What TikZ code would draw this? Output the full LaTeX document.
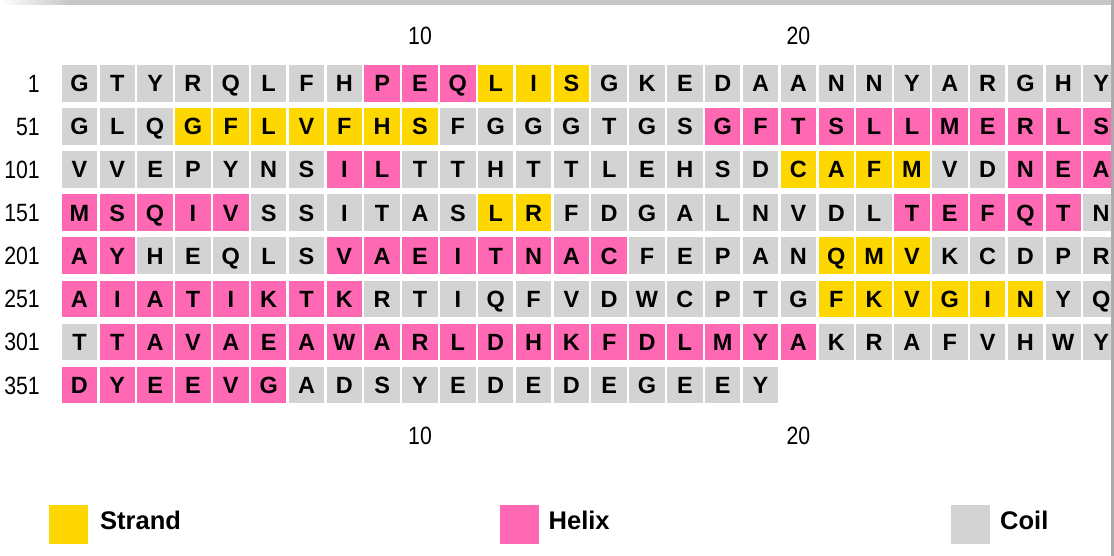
\documentclass[tikz,border=0pt]{standalone}
\usepackage{fontspec}
\setmainfont{Liberation Sans}
\newfontfamily\numfont[FakeStretch=0.85]{Liberation Sans}
\definecolor{cols}{HTML}{FFD700}
\definecolor{colh}{HTML}{FF69B4}
\definecolor{colc}{HTML}{D3D3D3}
\definecolor{framebar}{HTML}{C6C6C6}
\definecolor{frameline}{HTML}{ABABAB}
\tikzset{
  cellbox/.style={minimum width=35.5pt, minimum height=36.7pt, inner sep=0pt, outer sep=0pt,
    anchor=north west, font=\fontsize{23.5}{23.5}\selectfont\bfseries, text height=16.8pt, text depth=0pt},
  rowlab/.style={anchor=east, inner sep=0pt, font=\numfont\fontsize{25}{25}\selectfont, text height=17.9pt, text depth=0pt},
  collab/.style={inner sep=0pt, font=\numfont\fontsize{25}{25}\selectfont, text height=17.9pt, text depth=0pt},
  legbox/.style={minimum width=39pt, minimum height=39pt, inner sep=0pt, outer sep=0pt},
  legtext/.style={anchor=west, inner sep=0pt, font=\fontsize{25.5}{25.5}\selectfont\bfseries, text height=18.3pt, text depth=0pt}
}
\newcommand\seqrow[3]{%
  \foreach \l/\t [count=\i] in {#3} {%
    \node[cellbox, fill=col\t] (c#1-\i) at ({61.7+(\i-1)*37.84},{65+(#1-1)*43.1}) {\l};
  }%
  \node[rowlab] (lab#1) at (40,{65+(#1-1)*43.1+18.35}) {#2};
}
\begin{document}
\begin{tikzpicture}[x=1pt,y=-1pt]
\useasboundingbox (0,0) rectangle (1114,556);
% frame
\fill[framebar] (0,0) rectangle (1114,5);
\shade[left color=white, right color=framebar] (0,0) rectangle (70,5);
\fill[frameline] (1111,0) rectangle (1114,556);
% column numbers
\node[collab] (top10) at (420,36) {10};
\node[collab] (top20) at (798.4,36) {20};
\node[collab] (bot10) at (420,436) {10};
\node[collab] (bot20) at (798.4,436) {20};
% sequence
\begin{scope}
\clip (0,0) rectangle (1111,556);
\seqrow{1}{1}{G/c,T/c,Y/c,R/c,Q/c,L/c,F/c,H/c,P/h,E/h,Q/h,L/s,I/s,S/s,G/c,K/c,E/c,D/c,A/c,A/c,N/c,N/c,Y/c,A/c,R/c,G/c,H/c,Y/c}
\seqrow{2}{51}{G/c,L/c,Q/c,G/s,F/s,L/s,V/s,F/s,H/s,S/s,F/c,G/c,G/c,G/c,T/c,G/c,S/c,G/h,F/h,T/h,S/h,L/h,L/h,M/h,E/h,R/h,L/h,S/h}
\seqrow{3}{101}{V/c,V/c,E/c,P/c,Y/c,N/c,S/c,I/h,L/h,T/c,T/c,H/c,T/c,T/c,L/c,E/c,H/c,S/c,D/c,C/s,A/s,F/s,M/s,V/c,D/c,N/h,E/h,A/h}
\seqrow{4}{151}{M/h,S/h,Q/h,I/h,V/h,S/c,S/c,I/c,T/c,A/c,S/c,L/s,R/s,F/c,D/c,G/c,A/c,L/c,N/c,V/c,D/c,L/c,T/h,E/h,F/h,Q/h,T/h,N/c}
\seqrow{5}{201}{A/h,Y/h,H/c,E/c,Q/c,L/c,S/c,V/h,A/h,E/h,I/h,T/h,N/h,A/h,C/h,F/c,E/c,P/c,A/c,N/c,Q/s,M/s,V/s,K/c,C/c,D/c,P/c,R/c}
\seqrow{6}{251}{A/h,I/h,A/h,T/h,I/h,K/h,T/h,K/h,R/c,T/c,I/c,Q/c,F/c,V/c,D/c,W/c,C/c,P/c,T/c,G/c,F/s,K/s,V/s,G/s,I/s,N/s,Y/c,Q/c}
\seqrow{7}{301}{T/c,T/h,A/h,V/h,A/h,E/h,A/h,W/h,A/h,R/h,L/h,D/h,H/h,K/h,F/h,D/h,L/h,M/h,Y/h,A/h,K/c,R/c,A/c,F/c,V/c,H/c,W/c,Y/c}
\seqrow{8}{351}{D/h,Y/h,E/h,E/h,V/h,G/h,A/c,D/c,S/c,Y/c,E/c,D/c,E/c,D/c,E/c,G/c,E/c,E/c,Y/c}
\end{scope}
% legend
\node[legbox, fill=cols] (legS) at (68.5,524.5) {};
\node[legtext] (legStext) at (100,520.5) {Strand};
\node[legbox, fill=colh] (legH) at (519.5,524.5) {};
\node[legtext] (legHtext) at (548.5,520.5) {Helix};
\node[legbox, fill=colc] (legC) at (970.5,524.5) {};
\node[legtext] (legCtext) at (1000,520.5) {Coil};
\end{tikzpicture}
\end{document}
